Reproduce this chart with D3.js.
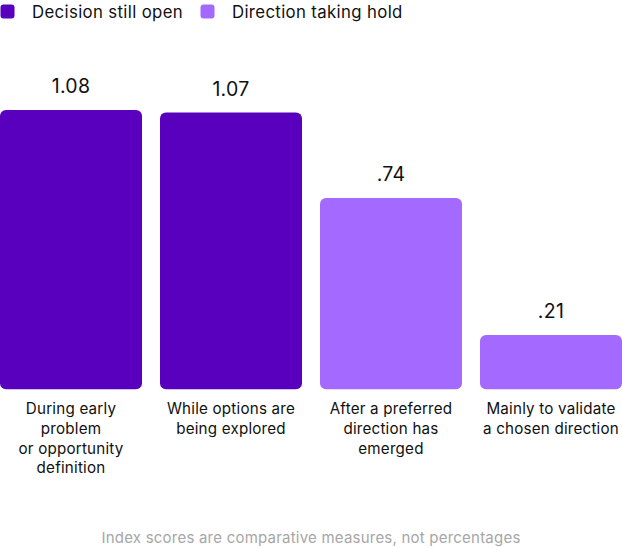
<!DOCTYPE html>
<html>
<head>
<meta charset="utf-8">
<script src="https://cdn.jsdelivr.net/npm/d3@7"></script>
<style>
  html, body { margin: 0; padding: 0; background: #fff; }
  body { font-family: Inter, "Noto Sans", sans-serif; }
</style>
</head>
<body>
<div id="chart"></div>
<script>
// Data
const categories = [
  ['During early', 'problem', 'or opportunity', 'definition'],
  ['While options are', 'being explored'],
  ['After a preferred', 'direction has', 'emerged'],
  ['Mainly to validate', 'a chosen direction'],
];
const values = [1.08, 1.07, 0.74, 0.21];
const valueLabels = ['1.08', '1.07', '.74', '.21'];
const groups = ['open', 'open', 'hold', 'hold'];
const legendLabels = ['Decision still open', 'Direction taking hold'];
const footnote = 'Index scores are comparative measures, not percentages';

const width = 622;
const height = 548;
const colors = {open: '#5800be', hold: '#a46aff'};

const svg = d3.select('#chart')
  .append('svg')
  .attr('width', width)
  .attr('height', height);

// Legend
const legend = svg.append('g');
const legendX = [0, 200];
legendLabels.forEach((label, i) => {
  const g = legend.append('g').attr('transform', `translate(${legendX[i]},0)`);
  g.append('rect')
    .attr('x', 0.5)
    .attr('y', 4.5)
    .attr('width', 14)
    .attr('height', 14)
    .attr('rx', 3)
    .attr('fill', i === 0 ? colors.open : colors.hold);
  g.append('text')
    .attr('x', 32)
    .attr('y', 18.3)
    .attr('font-size', 16.8)
    .attr('letter-spacing', 0.35)
    .attr('fill', '#111')
    .text(label);
});

// Scales
const x = d3.scaleBand()
  .domain(d3.range(values.length))
  .range([0, width])
  .paddingInner(0.1125)
  .paddingOuter(0);

const y = d3.scaleLinear()
  .domain([0, 1.08])
  .range([389.3, 110]);

// Bars
svg.append('g')
  .selectAll('rect')
  .data(values)
  .join('rect')
  .attr('x', (d, i) => x(i))
  .attr('y', d => y(d))
  .attr('width', x.bandwidth())
  .attr('height', d => y(0) - y(d))
  .attr('rx', 6)
  .attr('fill', (d, i) => colors[groups[i]]);

// Value labels
svg.append('g')
  .selectAll('text')
  .data(values)
  .join('text')
  .attr('x', (d, i) => x(i) + x.bandwidth() / 2)
  .attr('y', d => y(d) - 17)
  .attr('text-anchor', 'middle')
  .attr('font-size', 19.5)
  .attr('letter-spacing', 0.3)
  .attr('fill', '#111')
  .text((d, i) => valueLabels[i]);

// Category labels
const cats = svg.append('g')
  .selectAll('text')
  .data(categories)
  .join('text')
  .attr('x', (d, i) => x(i) + x.bandwidth() / 2)
  .attr('y', 414)
  .attr('text-anchor', 'middle')
  .attr('font-size', 15.2)
  .attr('letter-spacing', 0.2)
  .attr('fill', '#111');

cats.each(function(lines, i) {
  const t = d3.select(this);
  lines.forEach((line, j) => {
    t.append('tspan')
      .attr('x', x(i) + x.bandwidth() / 2)
      .attr('dy', j === 0 ? 0 : 19.8)
      .text(line);
  });
});

// Footnote
svg.append('text')
  .attr('x', width / 2)
  .attr('y', 543)
  .attr('text-anchor', 'middle')
  .attr('font-size', 15)
  .attr('letter-spacing', 0.22)
  .attr('fill', '#a6a6a6')
  .text(footnote);
</script>
</body>
</html>
